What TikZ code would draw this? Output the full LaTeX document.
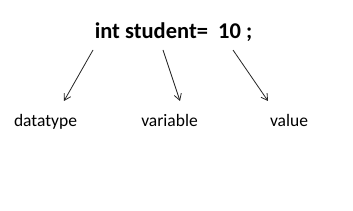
\documentclass[tikz,border=0pt]{standalone}
\usepackage{fontspec}
\setmainfont{Carlito}
\usetikzlibrary{arrows.meta}
\tikzset{
  >={Straight Barb[length=2.2mm,width=2.6mm]},
  title/.style={font=\fontsize{22.5}{26}\selectfont\bfseries,inner sep=0pt,anchor=base},
  label/.style={font=\fontsize{17.5}{20}\selectfont,inner sep=0pt,anchor=base},
  pointer/.style={->,draw=black!85,line width=0.8pt},
}
\begin{document}
\begin{tikzpicture}[x=1pt,y=-1pt]
  \useasboundingbox[fill=white] (0,0) rectangle (353,211);

  % declaration
  \node[title] (decl) at (173.5,39) {int student=\hspace{0.45em}10 ;};

  % meaning of each part
  \node[label] (dtype) at (45.5,127) {datatype};
  \node[label] (var) at (169.5,127) {variable};
  \node[label] (val) at (289,127) {value};

  % pointers
  \coordinate (s1) at (93,50);   \coordinate (e1) at (64,101);
  \coordinate (s2) at (163,50);  \coordinate (e2) at (180,101);
  \coordinate (s3) at (233,50);  \coordinate (e3) at (268,101);
  \draw[pointer] (s1) -- (e1);
  \draw[pointer] (s2) -- (e2);
  \draw[pointer] (s3) -- (e3);
\end{tikzpicture}
\end{document}
